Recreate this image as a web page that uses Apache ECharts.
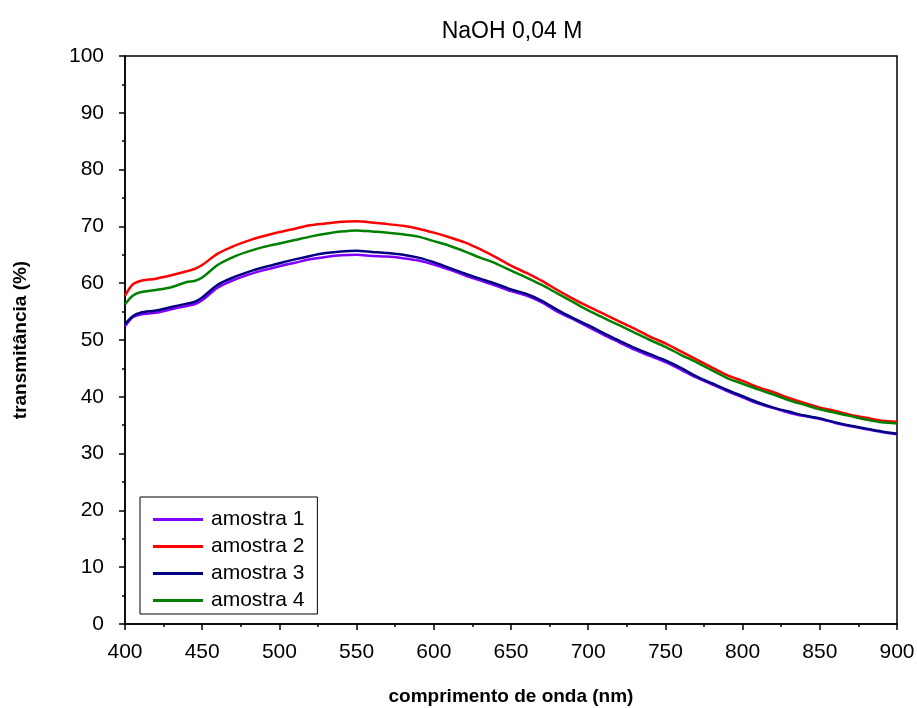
<!DOCTYPE html>
<html>
<head>
<meta charset="utf-8">
<script src="https://cdn.jsdelivr.net/npm/echarts@6/dist/echarts.min.js"></script>
<style>
html,body{margin:0;padding:0;background:#fff;}
#chart{width:917px;height:708px;}
</style>
</head>
<body>
<div id="chart"></div>
<script>
const wavelengths = [400,405,410,420,430,440,445,450,460,470,480,490,500,510,520,530,540,550,560,570,580,590,600,610,620,630,640,650,660,670,680,690,700,710,720,730,740,750,760,770,780,790,800,810,820,830,840,850,860,870,880,890,900];
const amostra1 = [52.4,54.0,54.5,54.8,55.4,56.0,56.3,57.0,59.2,60.5,61.5,62.3,63.0,63.6,64.2,64.6,64.9,65.0,64.8,64.7,64.4,64.0,63.3,62.4,61.4,60.5,59.6,58.6,57.8,56.6,55.0,53.7,52.3,50.9,49.6,48.3,47.2,46.1,44.8,43.4,42.2,41.0,39.9,38.8,38.0,37.2,36.6,36.1,35.4,34.8,34.3,33.8,33.4];
const amostra2 = [57.8,59.8,60.4,60.8,61.4,62.1,62.5,63.2,65.2,66.5,67.5,68.3,69.0,69.6,70.2,70.5,70.8,70.9,70.7,70.4,70.1,69.6,68.9,68.1,67.2,66.0,64.6,63.1,61.8,60.4,58.8,57.3,55.9,54.6,53.3,52.0,50.6,49.4,48.0,46.6,45.2,43.8,42.8,41.7,40.8,39.8,38.9,38.1,37.5,36.8,36.3,35.8,35.6];
const amostra3 = [52.8,54.2,54.8,55.2,55.8,56.4,56.7,57.5,59.7,61.0,62.0,62.8,63.5,64.2,64.8,65.3,65.6,65.7,65.5,65.3,65.0,64.5,63.7,62.7,61.7,60.8,59.9,58.9,58.1,56.9,55.3,53.9,52.6,51.2,49.9,48.6,47.5,46.4,45.1,43.6,42.4,41.2,40.1,39.0,38.1,37.4,36.7,36.2,35.5,34.9,34.4,33.9,33.5];
const amostra4 = [56.3,57.8,58.4,58.8,59.3,60.2,60.4,61.0,63.2,64.6,65.6,66.4,67.0,67.6,68.2,68.7,69.1,69.3,69.1,68.9,68.6,68.2,67.4,66.6,65.6,64.5,63.5,62.2,61.0,59.7,58.2,56.7,55.2,53.9,52.6,51.3,50.0,48.8,47.4,46.1,44.7,43.3,42.3,41.3,40.4,39.4,38.6,37.8,37.2,36.6,36.0,35.5,35.3];
const seriesNames = ['amostra 1','amostra 2','amostra 3','amostra 4'];
const seriesColors = ['#8000ff','#ff0000','#000080','#008000'];
const xTicks = [400,450,500,550,600,650,700,750,800,850,900];
const yTicks = [0,10,20,30,40,50,60,70,80,90,100];

const allData = [amostra1, amostra2, amostra3, amostra4];
const font = "'Liberation Sans', Arial, sans-serif";

const chart = echarts.init(document.getElementById('chart'));
chart.setOption({
  animation: false,
  backgroundColor: '#fff',
  title: {
    text: 'NaOH 0,04 M',
    left: 507, textAlign: 'center', top: 15,
    textStyle: {fontFamily: font, fontSize: 23, fontWeight: 'normal', color: '#000'}
  },
  legend: {
    data: seriesNames,
    orient: 'vertical',
    left: 140, top: 497,
    padding: [12, 13, 3, 13],
    borderColor: '#000', borderWidth: 1,
    icon: 'rect',
    itemWidth: 50, itemHeight: 3,
    itemGap: 6,
    textStyle: {fontFamily: font, fontSize: 21, color: '#000', padding: [0,0,0,3]}
  },
  grid: {
    left: 125, right: 20, top: 56, bottom: 84,
    containLabel: false, outerBoundsMode: 'none',
    show: true, borderColor: '#000', borderWidth: 1.5
  },
  xAxis: {
    type: 'value', min: 400, max: 900, interval: 50,
    name: 'comprimento de onda (nm)', nameLocation: 'middle', nameGap: 63,
    nameTextStyle: {fontFamily: font, fontSize: 19, fontWeight: 'bold', color: '#000'},
    axisLine: {show: true, onZero: false, lineStyle: {color: '#000', width: 1.5}},
    axisTick: {show: true, length: 6, inside: false, lineStyle: {color: '#000', width: 1.5}},
    minorTick: {show: true, splitNumber: 2, length: 3, lineStyle: {color: '#000', width: 1.5}},
    axisLabel: {fontFamily: font, fontSize: 21, color: '#000', margin: 18,
      formatter: v => xTicks.includes(v) ? String(v) : ''},
    splitLine: {show: false}
  },
  yAxis: {
    type: 'value', min: 0, max: 100, interval: 10,
    name: 'transmitância (%)', nameLocation: 'middle', nameGap: 95,
    nameTextStyle: {fontFamily: font, fontSize: 19, fontWeight: 'bold', color: '#000'},
    axisLine: {show: true, onZero: false, lineStyle: {color: '#000', width: 1.5}},
    axisTick: {show: true, length: 6, inside: false, lineStyle: {color: '#000', width: 1.5}},
    minorTick: {show: true, splitNumber: 2, length: 3, lineStyle: {color: '#000', width: 1.5}},
    axisLabel: {fontFamily: font, fontSize: 21, color: '#000', margin: 21,
      formatter: v => yTicks.includes(v) ? String(v) : ''},
    splitLine: {show: false}
  },
  series: allData.map((arr, i) => ({
    name: seriesNames[i],
    type: 'line',
    data: wavelengths.map((w, j) => [w, arr[j]]),
    showSymbol: false,
    symbol: 'none',
    smooth: 0.3,
    color: seriesColors[i],
    lineStyle: {color: seriesColors[i], width: 2.5},
    z: [2,3,4,3][i]
  }))
});
</script>
</body>
</html>
